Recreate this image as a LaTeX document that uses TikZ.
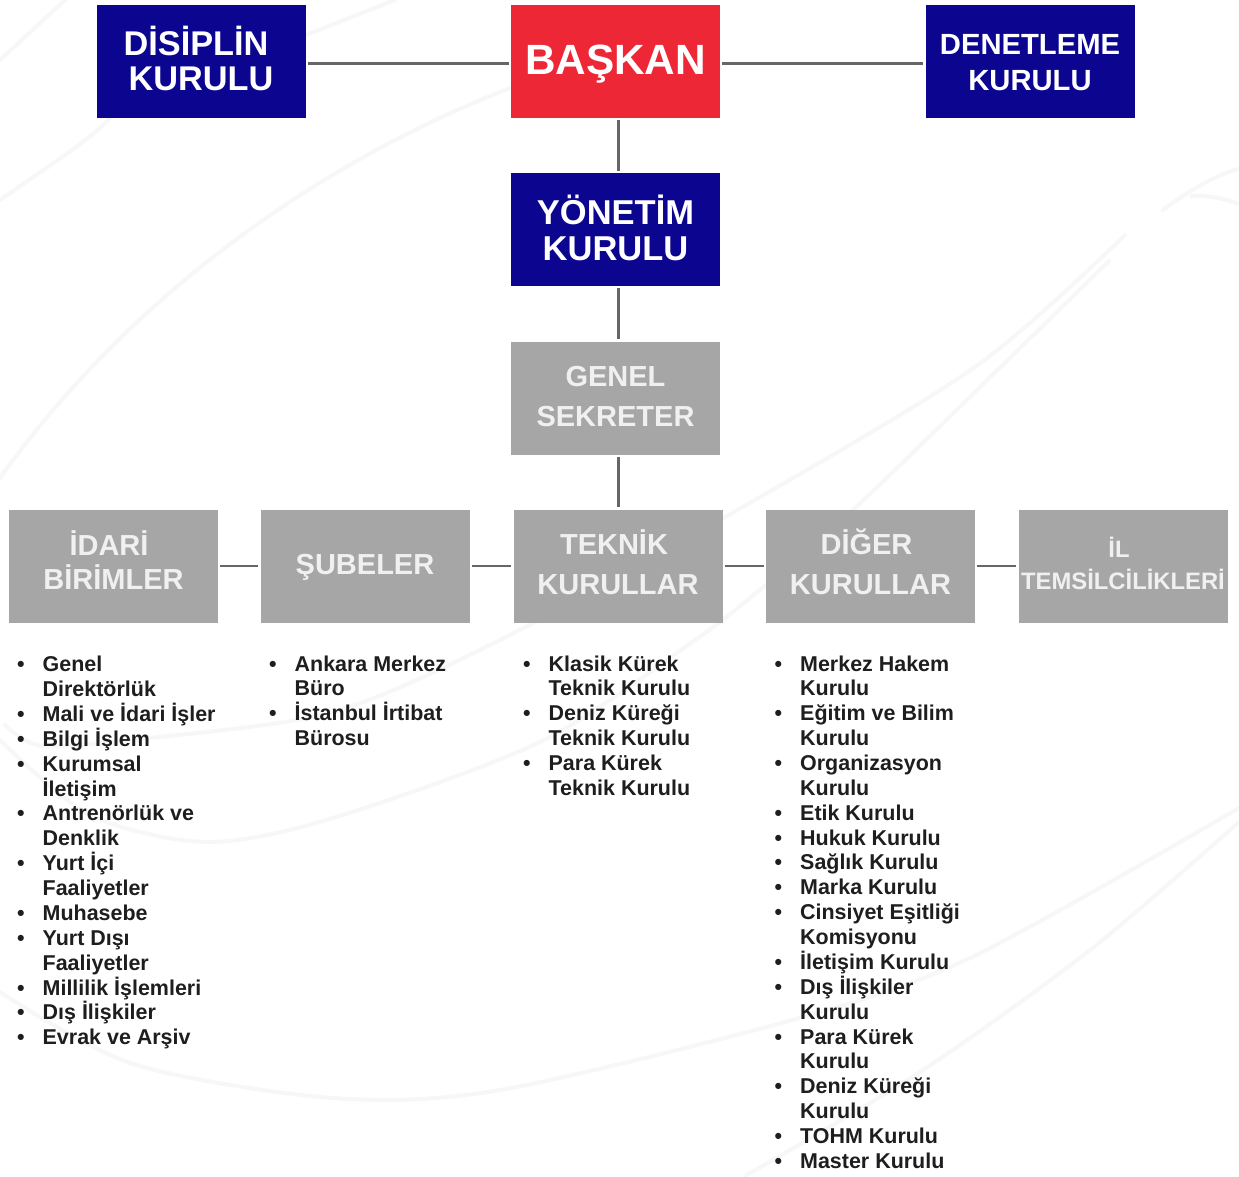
\documentclass[tikz,border=0pt]{standalone}
\usepackage{fontspec}
\setmainfont{Liberation Sans}
\definecolor{navy}{HTML}{0B0590}
\definecolor{redbox}{HTML}{EE2737}
\definecolor{greybox}{HTML}{A6A6A6}
\definecolor{greytext}{HTML}{F0F0F0}
\definecolor{linegrey}{HTML}{666666}
\definecolor{swoosh}{HTML}{F7F7F9}
\definecolor{listtext}{HTML}{1E1E1E}
\newcommand{\fs}[1]{\fontsize{#1}{#1}\selectfont\bfseries}
% \dn{d}{content}: lowers content by d inside a box-centred node; \upb raises it
\newcommand{\dn}[2]{\vbox{\vskip #1pt\vskip #1pt\hbox{#2}}}
\newcommand{\upb}[2]{\vbox{\hbox{#2}\vskip #1pt\vskip #1pt}}
\newcommand{\twol}[3]{\begin{tabular}{@{}c@{}}#1\\[#3pt]#2\end{tabular}}
\newcommand{\li}[1]{\hbox{\makebox[25.5pt][l]{\textbullet}#1}}
\newcommand{\lc}[1]{\hbox{\hspace{25.5pt}#1}}
\newcommand{\collist}[1]{\fontsize{21.45}{24.87}\selectfont\bfseries\vtop{\baselineskip=24.87pt\lineskiplimit=-100pt\lineskip=0pt #1}}
\tikzset{
  x=1pt,y=-1pt,
  box/.style={minimum width=209pt,minimum height=113pt,inner sep=0pt,text=white,align=center},
  bluebox/.style={box,fill=navy},
  redb/.style={box,fill=redbox},
  greyb/.style={box,fill=greybox,text=greytext},
  conn/.style={draw=linegrey,line width=2.4pt},
  bg/.style={draw=swoosh,line width=4pt,line cap=round},
  listnode/.style={inner sep=0pt,anchor=base west,text=listtext}
}
\begin{document}
\begin{tikzpicture}
\useasboundingbox (0,0) rectangle (1239,1176);
\fill[white] (0,0) rectangle (1239,1176);
% faint background swooshes
\draw[bg] (0,478) .. controls (120,310) and (300,170) .. (510,88);
\draw[bg] (0,200) .. controls (50,165) and (90,140) .. (110,118);
\draw[bg] (0,60) -- (65,0);
\draw[bg] (306,35) -- (395,0);
\draw[bg] (1163,210) .. controls (1190,190) and (1215,175) .. (1239,169);
\draw[bg] (1192,196) .. controls (1210,195) and (1225,199) .. (1239,204);
\draw[bg] plot[smooth] coordinates {(1125,235) (975,367) (727,516) (500,640) (333,712) (150,738) (43,746) (5,725)};
\draw[bg] plot[smooth] coordinates {(1109,261) (975,392) (857,506) (762,588) (695,640) (542,741) (333,818) (207,842) (90,815) (0,740)};
\draw[bg] plot[smooth] coordinates {(0,992) (133,1064) (333,1098) (500,1090) (792,1020) (972,957) (1239,808)};
\draw[bg] plot[smooth] coordinates {(1239,822) (1090,950) (920,1072) (745,1176)};
% boxes
\node[bluebox] (disiplin) at (201,61) {\fs{34.3}\dn{2.5}{\twol{\hspace*{-10pt}DİSİPLİN}{KURULU}{0.5}}};
\node[redb] (baskan) at (615.5,61) {\fs{42.3}\dn{3}{BAŞKAN}};
\node[bluebox] (denetleme) at (1030,61) {\fs{29.2}\dn{5.5}{\twol{DENETLEME}{KURULU}{7}}};
\node[bluebox] (yonetim) at (615.5,229.5) {\fs{34.5}\dn{3.5}{\twol{YÖNETİM}{KURULU}{2}}};
\node[greyb] (genel) at (615.5,398) {\fs{29}\dn{2.5}{\twol{GENEL}{SEKRETER}{11}}};
\node[greyb] (idari) at (113.5,566) {\fs{29}\upb{1.5}{\twol{\hspace*{-9pt}İDARİ}{BİRİMLER}{0}}};
\node[greyb] (subeler) at (365,566) {\fs{29}\dn{1}{ŞUBELER}};
\node[greyb] (teknik) at (618,566) {\fs{29}\twol{\hspace*{-8pt}TEKNİK}{KURULLAR}{11}};
\node[greyb] (diger) at (870.5,566) {\fs{29}\twol{\hspace*{-8pt}DİĞER}{KURULLAR}{11}};
\node[greyb] (il) at (1123,566) {\fs{23.8}\dn{1}{\twol{\hspace*{-8pt}İL}{TEMSİLCİLİKLERİ}{4}}};
% connectors
\draw[conn] ([xshift=2pt]disiplin.east |- 0,63.5) -- ([xshift=-2pt]baskan.west |- 0,63.5);
\draw[conn] ([xshift=2pt]baskan.east |- 0,63.5) -- ([xshift=-2pt]denetleme.west |- 0,63.5);
\draw[conn] ([xshift=3pt,yshift=-2pt]baskan.south) -- ([xshift=3pt,yshift=2pt]yonetim.north);
\draw[conn] ([xshift=3pt,yshift=-2pt]yonetim.south) -- ([xshift=3pt,yshift=2pt]genel.north);
\draw[conn] ([xshift=3pt,yshift=-2pt]genel.south) -- ([xshift=0.5pt,yshift=2pt]teknik.north);
\draw[conn] ([xshift=2pt]idari.east) -- ([xshift=-2pt]subeler.west);
\draw[conn] ([xshift=2pt]subeler.east) -- ([xshift=-2pt]teknik.west);
\draw[conn] ([xshift=2pt]teknik.east) -- ([xshift=-2pt]diger.west);
\draw[conn] ([xshift=2pt]diger.east) -- ([xshift=-2pt]il.west);
% lists
\node[listnode] (l1) at (17,671.7) {\collist{
\li{Genel}\lc{Direktörlük}
\li{Mali ve İdari İşler}
\li{Bilgi İşlem}
\li{Kurumsal}\lc{İletişim}
\li{Antrenörlük ve}\lc{Denklik}
\li{Yurt İçi}\lc{Faaliyetler}
\li{Muhasebe}
\li{Yurt Dışı}\lc{Faaliyetler}
\li{Millilik İşlemleri}
\li{Dış İlişkiler}
\li{Evrak ve Arşiv}
}};
\node[listnode] (l2) at (269,671) {\collist{
\li{Ankara Merkez}\lc{Büro}
\li{İstanbul İrtibat}\lc{Bürosu}
}};
\node[listnode] (l3) at (523,671) {\collist{
\li{Klasik Kürek}\lc{Teknik Kurulu}
\li{Deniz Küreği}\lc{Teknik Kurulu}
\li{Para Kürek}\lc{Teknik Kurulu}
}};
\node[listnode] (l4) at (774.5,671) {\collist{
\li{Merkez Hakem}\lc{Kurulu}
\li{Eğitim ve Bilim}\lc{Kurulu}
\li{Organizasyon}\lc{Kurulu}
\li{Etik Kurulu}
\li{Hukuk Kurulu}
\li{Sağlık Kurulu}
\li{Marka Kurulu}
\li{Cinsiyet Eşitliği}\lc{Komisyonu}
\li{İletişim Kurulu}
\li{Dış İlişkiler}\lc{Kurulu}
\li{Para Kürek}\lc{Kurulu}
\li{Deniz Küreği}\lc{Kurulu}
\li{TOHM Kurulu}
\li{Master Kurulu}
}};
\end{tikzpicture}
\end{document}
